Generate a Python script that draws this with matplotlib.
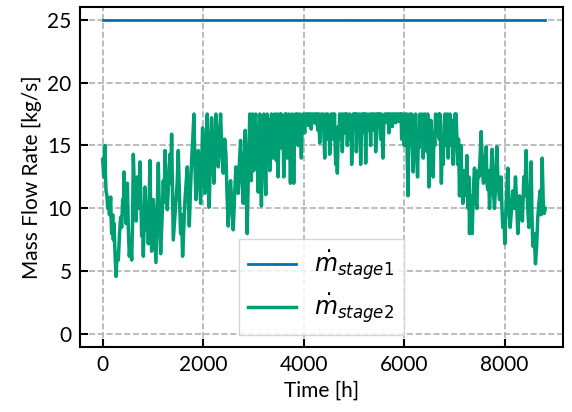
import matplotlib
matplotlib.use("Agg")
import matplotlib.pyplot as plt

# stage 1 runs at a constant rate over the whole year
hours_stage1 = [0, 8810]
flow_stage1 = [25.0, 25.0]

# stage 2 as (hour, kg/s) pairs
stage2_rise = [
    (0, 13.9), (20, 12.5), (35, 14.5), (46, 15.0), (56, 12.5), (66, 11.4),
    (85, 11.0), (100, 10.0), (113, 10.8), (135, 9.5), (159, 10.9), (170, 9.0),
    (179, 8.0), (200, 9.5), (212, 7.5), (225, 8.8), (245, 6.5), (265, 4.6),
    (290, 6.5), (312, 5.9), (335, 8.0), (358, 9.3), (378, 8.5), (398, 10.7),
    (412, 9.5), (424, 12.9), (445, 10.5), (464, 8.8), (478, 10.0), (491, 12.0),
    (510, 8.5), (530, 6.2), (555, 7.5), (577, 5.9), (595, 9.0), (610, 14.3),
    (627, 12.0), (643, 10.7), (665, 9.0), (690, 12.5), (715, 10.0), (743, 13.7),
    (760, 10.5), (776, 7.8), (792, 9.5), (809, 6.2), (825, 9.0), (842, 11.7),
    (858, 10.0), (875, 8.3), (892, 10.0), (908, 7.2), (925, 10.5), (941, 13.8),
    (958, 9.5), (974, 6.6), (990, 9.0), (1008, 10.7), (1035, 8.0), (1060, 5.7),
    (1085, 10.0), (1107, 13.6), (1130, 9.5), (1154, 6.4), (1180, 9.0),
    (1207, 12.2), (1224, 10.5), (1240, 14.6), (1263, 12.0), (1286, 9.9),
    (1312, 12.0), (1339, 14.3), (1355, 12.0), (1372, 15.9), (1390, 11.0),
    (1405, 7.5), (1430, 9.0), (1459, 10.7), (1482, 12.0), (1505, 14.6),
    (1528, 11.0), (1551, 8.0), (1570, 9.5), (1591, 6.2), (1615, 8.5),
    (1638, 10.7), (1660, 12.0), (1684, 13.3), (1704, 11.0), (1724, 8.6),
    (1748, 11.5), (1770, 13.8), (1793, 15.5), (1816, 17.5), (1836, 13.5),
    (1856, 10.7), (1880, 12.5), (1903, 14.6), (1926, 12.5), (1949, 10.4),
    (1970, 13.5), (1989, 16.4), (2012, 13.5), (2035, 11.2), (2058, 15.0),
    (2082, 17.5), (2100, 13.0), (2121, 10.1), (2145, 14.5), (2168, 17.2),
    (2190, 14.0), (2214, 12.0), (2235, 15.0), (2254, 17.5), (2278, 15.5),
    (2300, 13.3), (2325, 15.5), (2347, 17.5), (2372, 14.5), (2400, 12.8),
    (2428, 15.5), (2453, 14.3), (2476, 11.0), (2499, 8.6), (2522, 11.0),
    (2546, 12.2), (2572, 10.0), (2599, 8.3), (2625, 11.0), (2652, 13.3),
    (2675, 12.5), (2698, 11.2), (2720, 13.5), (2745, 15.4), (2770, 12.5),
    (2798, 10.4), (2818, 13.5), (2838, 16.2), (2858, 11.5), (2877, 8.0),
    (2900, 13.0),
]
stage2_plateau_a = [
    (2928, 17.5), (2945, 13.5), (2960, 12.2), (2970, 16.0), (2981, 17.5),
    (2995, 14.5), (3008, 13.0), (3025, 16.5), (3047, 17.5), (3060, 14.0),
    (3075, 16.5), (3094, 11.3), (3110, 15.0), (3127, 17.5), (3142, 13.5),
    (3160, 10.2), (3180, 15.5), (3195, 13.0), (3206, 17.5), (3225, 14.5),
    (3246, 11.1), (3260, 15.0), (3273, 17.5), (3288, 15.8), (3300, 14.5),
    (3315, 17.0), (3326, 13.0), (3342, 16.0), (3359, 17.5), (3375, 15.5),
    (3392, 14.0), (3405, 16.8), (3420, 17.5), (3432, 15.2), (3445, 16.0),
    (3458, 13.8), (3470, 17.5), (3482, 15.0), (3492, 12.5), (3508, 16.0),
    (3525, 17.5), (3540, 14.8), (3555, 17.5), (3566, 16.0), (3578, 15.0),
    (3590, 17.0), (3604, 12.5), (3620, 16.5), (3632, 17.5), (3644, 15.5),
    (3658, 17.5), (3671, 14.0), (3690, 16.5), (3711, 17.5), (3724, 15.0),
    (3737, 12.0), (3755, 16.0), (3777, 17.5), (3790, 15.5), (3803, 12.0),
    (3820, 16.5), (3843, 17.5), (3858, 16.0), (3875, 17.5), (3890, 15.0),
    (3905, 16.8), (3922, 17.5), (3938, 15.8), (3955, 14.0), (3970, 16.5),
    (3989, 17.5), (4005, 16.8), (4022, 16.0), (4038, 17.5), (4055, 16.9),
    (4072, 17.5), (4090, 16.6), (4105, 17.5), (4121, 16.9), (4135, 17.5),
    (4150, 16.3), (4170, 17.5), (4188, 17.0), (4205, 17.5), (4220, 16.8),
    (4238, 17.5), (4254, 16.7), (4270, 17.5), (4287, 16.2), (4303, 17.5),
    (4320, 15.2), (4337, 17.0), (4353, 17.5), (4372, 16.5), (4390, 17.5),
    (4405, 15.8), (4420, 14.0), (4432, 16.2), (4445, 17.5), (4455, 16.0),
    (4466, 15.5),
]
stage2_plateau_b = [
    (4480, 17.5), (4495, 15.5), (4510, 17.0), (4519, 14.3), (4535, 16.5),
    (4550, 17.5), (4562, 16.0), (4572, 15.5), (4586, 17.5), (4600, 16.5),
    (4615, 17.5), (4627, 15.0), (4638, 13.5), (4652, 16.0), (4671, 12.8),
    (4690, 16.5), (4705, 15.5), (4717, 17.5), (4732, 16.5), (4745, 16.0),
    (4758, 17.5), (4770, 14.5), (4785, 16.8), (4800, 17.5), (4812, 16.5),
    (4824, 16.0), (4837, 17.5), (4850, 16.2), (4860, 17.5), (4870, 15.0),
    (4885, 17.0), (4900, 16.0), (4916, 17.5), (4930, 15.5), (4945, 16.8),
    (4956, 13.5), (4972, 16.0), (4988, 17.5), (5003, 16.8), (5016, 17.5),
    (5030, 16.5), (5040, 17.5), (5049, 14.5), (5062, 16.5), (5075, 17.5),
    (5088, 16.0), (5102, 15.8), (5118, 17.5), (5135, 13.5), (5150, 16.0),
    (5166, 17.5), (5182, 16.7), (5196, 17.5), (5210, 16.0), (5222, 17.5),
    (5235, 13.6), (5248, 16.5), (5260, 17.5), (5274, 16.2), (5288, 17.0),
    (5300, 16.4), (5310, 17.5), (5322, 16.5), (5334, 15.0), (5350, 17.5),
    (5366, 16.2), (5381, 17.5), (5396, 16.9), (5410, 16.4), (5422, 17.5),
    (5434, 14.5), (5448, 16.5), (5460, 17.5), (5474, 16.5), (5487, 17.5),
    (5498, 16.6), (5510, 17.5), (5522, 16.0), (5533, 15.5), (5546, 17.5),
    (5560, 16.0), (5580, 14.0), (5596, 16.8), (5614, 17.5), (5633, 16.9),
    (5650, 17.5), (5665, 16.8), (5682, 17.5), (5699, 16.0), (5714, 17.5),
    (5730, 17.0), (5748, 17.5), (5765, 16.5), (5783, 17.5), (5800, 17.0),
    (5816, 17.5), (5832, 16.8), (5848, 17.5), (5865, 17.0), (5882, 17.5),
    (5898, 16.9), (5914, 17.5), (5930, 17.2), (5941, 17.5), (5951, 15.5),
    (5963, 17.0), (5975, 17.5),
]
stage2_fall = [
    (5990, 16.0), (6003, 15.0), (6018, 17.5), (6035, 15.5), (6050, 17.5),
    (6063, 14.0), (6077, 11.0), (6092, 15.5), (6110, 17.5), (6122, 16.0),
    (6136, 15.0), (6150, 17.5), (6166, 14.5), (6182, 12.9), (6198, 16.0),
    (6214, 14.5), (6229, 17.5), (6245, 15.0), (6268, 12.5), (6285, 16.0),
    (6300, 14.8), (6315, 17.5), (6332, 16.0), (6350, 15.5), (6365, 17.5),
    (6381, 14.0), (6398, 16.5), (6415, 17.5), (6430, 15.5), (6447, 16.0),
    (6458, 14.5), (6470, 17.5), (6482, 15.0), (6494, 11.7), (6508, 15.5),
    (6520, 14.0), (6535, 17.0), (6547, 16.0), (6563, 14.0), (6580, 12.5),
    (6595, 16.0), (6610, 15.0), (6626, 17.5), (6645, 15.8), (6666, 16.0),
    (6690, 17.5), (6700, 15.5), (6712, 17.5), (6727, 15.0), (6742, 12.0),
    (6760, 15.5), (6780, 13.5), (6795, 16.5), (6812, 17.5), (6828, 15.0),
    (6845, 15.5), (6860, 17.5), (6878, 14.0), (6895, 16.0), (6911, 17.5),
    (6928, 16.0), (6945, 15.0), (6960, 17.0), (6977, 13.5), (6994, 16.0),
    (7011, 17.5), (7024, 16.0), (7037, 17.5), (7050, 15.5), (7064, 13.5),
    (7083, 15.5), (7103, 11.0), (7118, 14.0), (7130, 15.0), (7150, 12.0),
    (7170, 10.4), (7190, 13.0), (7210, 12.5), (7230, 11.0), (7249, 14.2),
    (7262, 12.0), (7275, 10.0), (7290, 12.5), (7302, 8.0), (7316, 10.5),
    (7330, 11.0), (7342, 9.0), (7355, 8.0), (7378, 11.5), (7401, 13.2),
    (7425, 11.0), (7448, 10.0), (7470, 13.0), (7490, 12.5), (7512, 14.0),
    (7534, 16.1), (7558, 13.0), (7580, 12.0), (7605, 13.5), (7633, 14.9),
    (7650, 12.0), (7665, 11.5), (7682, 13.0), (7700, 10.0), (7725, 12.5),
    (7753, 14.7), (7775, 11.5), (7799, 10.0), (7822, 12.0), (7846, 14.9),
    (7870, 12.0), (7899, 10.7), (7915, 11.5), (7930, 12.5), (7948, 10.0),
    (7965, 8.5), (7985, 9.5), (8005, 7.2), (8020, 9.0), (8035, 10.5),
    (8050, 12.0), (8065, 13.2), (8088, 10.0), (8111, 8.5), (8140, 10.0),
    (8164, 11.4), (8190, 10.0), (8217, 12.5), (8240, 10.5), (8263, 8.0),
    (8285, 9.5), (8300, 11.0), (8315, 9.5), (8330, 10.5), (8355, 9.0),
    (8383, 12.5), (8405, 11.0), (8429, 14.6), (8455, 10.5), (8482, 8.5),
    (8505, 10.0), (8529, 13.7), (8545, 9.5), (8562, 7.0), (8590, 8.0),
    (8615, 5.6), (8638, 7.0), (8661, 9.3), (8685, 10.5), (8708, 11.4),
    (8728, 9.5), (8748, 14.0), (8770, 10.5), (8790, 9.6), (8810, 10.0),
]

stage2 = stage2_rise + stage2_plateau_a + stage2_plateau_b + stage2_fall
hours_stage2 = [h for h, _ in stage2]
flow_stage2 = [v for _, v in stage2]

plt.rcParams['font.family'] = ['Lato', 'DejaVu Sans']
plt.rcParams['font.size'] = 15

fig = plt.figure(figsize=(5.72, 4.12), dpi=100)
ax = fig.add_axes([0.14, 0.158, 0.844, 0.825])

ax.plot(hours_stage1, flow_stage1, color='#0072B2', linewidth=2,
        label=r'$\dot{m}_{stage1}$')
ax.plot(hours_stage2, flow_stage2, color='#009E73', linewidth=2.5,
        label=r'$\dot{m}_{stage2}$')

ax.set_xlim(-450, 9160)
ax.set_ylim(-1, 26)
ax.set_xticks([0, 2000, 4000, 6000, 8000])
ax.set_yticks([0, 5, 10, 15, 20, 25])
ax.set_xlabel('Time [h]')
ax.set_ylabel('Mass Flow Rate [kg/s]')
ax.grid(True, linestyle='--', color='#b0b0b0', linewidth=1.2)
ax.tick_params(direction='in', length=6, width=1.5, pad=6)
for sp in ax.spines.values():
    sp.set_linewidth(1.5)

ax.legend(loc='lower center', fontsize=17, fancybox=False, edgecolor='0.8',
          labelspacing=0.35)

fig.savefig('out.png', dpi=100)
